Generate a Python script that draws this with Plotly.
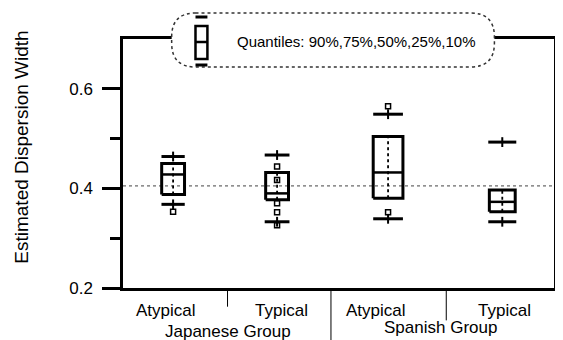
import plotly.graph_objects as go

# ---- data ----
categories = ["Atypical", "Typical", "Atypical", "Typical"]
groups = ["Japanese Group", "Spanish Group"]
p90 = [0.464, 0.467, 0.549, 0.493]
q75 = [0.450, 0.432, 0.504, 0.397]
median = [0.428, 0.390, 0.432, 0.373]
q25 = [0.388, 0.377, 0.380, 0.353]
p10 = [0.368, 0.333, 0.339, 0.333]
extra_points = [
    [0.353],
    [0.444, 0.417, 0.370, 0.352, 0.326],
    [0.565, 0.352],
    [],
]
reference_level = 0.405
y_ticks = [0.2, 0.4, 0.6]
y_minor = [0.3, 0.5]

# layout positions (not data)
xpos = [0.465, 1.43, 2.46, 3.52]
half_w = [0.106, 0.106, 0.138, 0.12]
cap_w = [0.108, 0.115, 0.138, 0.13]
label_x = [0.40, 1.47, 2.35, 3.54]
group_x = [0.97, 2.95]
dividers = [(0.97, -0.075), (1.93, -0.21), (3.0, -0.13)]

FONT = "Liberation Sans, Arial, sans-serif"
fig = go.Figure()

# reference line
fig.add_trace(go.Scatter(x=[0, 4], y=[reference_level] * 2, mode="lines",
                         line=dict(color="#444", width=1, dash="dot"),
                         hoverinfo="skip", showlegend=False))

for i in range(4):
    c, hw, cw = xpos[i], half_w[i], cap_w[i]
    fig.add_trace(go.Scatter(
        x=[c - hw, c + hw, c + hw, c - hw, c - hw],
        y=[q25[i], q25[i], q75[i], q75[i], q25[i]],
        mode="lines", line=dict(color="black", width=3),
        showlegend=False, hoverinfo="skip"))
    fig.add_trace(go.Scatter(x=[c - hw, c + hw], y=[median[i]] * 2, mode="lines",
                             line=dict(color="black", width=2.5),
                             showlegend=False, hoverinfo="skip"))
    fig.add_trace(go.Scatter(x=[c, c], y=[q25[i], q75[i]], mode="lines",
                             line=dict(color="black", width=1.8, dash="dot"),
                             showlegend=False, hoverinfo="skip"))
    for v in (p90[i], p10[i]):
        fig.add_trace(go.Scatter(x=[c - cw, c + cw], y=[v, v], mode="lines",
                                 line=dict(color="black", width=3),
                                 showlegend=False, hoverinfo="skip"))
    fig.add_trace(go.Scatter(x=[c, c], y=[p90[i], p10[i]], mode="markers",
                             marker=dict(symbol="line-ns", size=7,
                                         line=dict(color="black", width=2)),
                             showlegend=False, hoverinfo="skip"))
    if extra_points[i]:
        fig.add_trace(go.Scatter(x=[c] * len(extra_points[i]), y=extra_points[i],
                                 mode="markers",
                                 marker=dict(symbol="square-open", size=5,
                                             color="black", line=dict(width=1.5)),
                                 showlegend=False, hoverinfo="skip"))

shapes = []
for x, yb in dividers:
    shapes.append(dict(type="line", xref="x", yref="paper", x0=x, x1=x,
                       y0=-0.008, y1=yb, line=dict(color="black", width=1)))

# page pixel -> paper coords (plot area 123..557 x 39..288)
def px(xp):
    return (xp - 123) / 434
def py(yp):
    return (288 - yp) / 249

x0, x1, y0, y1 = px(172), px(497), py(67), py(13)
rx, ry = 24 / 434, 24 / 249
path = (f"M {x0+rx},{y1} L {x1-rx},{y1} Q {x1},{y1} {x1},{y1-ry} "
        f"L {x1},{y0+ry} Q {x1},{y0} {x1-rx},{y0} L {x0+rx},{y0} "
        f"Q {x0},{y0} {x0},{y0+ry} L {x0},{y1-ry} Q {x0},{y1} {x0+rx},{y1} Z")
shapes.append(dict(type="path", xref="paper", yref="paper", path=path,
                   fillcolor="white", line=dict(color="#333", width=1.5, dash="dot"),
                   layer="above"))
gx0, gx1 = px(196), px(208)
shapes += [
    dict(type="line", xref="paper", yref="paper", x0=gx0, x1=gx1, y0=py(17), y1=py(17),
         line=dict(color="black", width=3), layer="above"),
    dict(type="rect", xref="paper", yref="paper", x0=gx0, x1=gx1, y0=py(59), y1=py(26),
         line=dict(color="black", width=2.5), layer="above"),
    dict(type="line", xref="paper", yref="paper", x0=gx0, x1=gx1, y0=py(42), y1=py(42),
         line=dict(color="black", width=2.5), layer="above"),
    dict(type="line", xref="paper", yref="paper", x0=gx0, x1=gx1, y0=py(65), y1=py(65),
         line=dict(color="black", width=3), layer="above"),
]

annotations = [dict(text="Quantiles: 90%,75%,50%,25%,10%", xref="paper", yref="paper",
                    x=px(236), y=py(41), xanchor="left", yanchor="middle",
                    showarrow=False, font=dict(size=15, color="black", family=FONT))]
for lx, t in zip(label_x, categories):
    annotations.append(dict(text=t, xref="x", yref="paper", x=lx, y=py(310),
                            xanchor="center", yanchor="middle", showarrow=False,
                            font=dict(size=17, color="black", family=FONT)))
for gx, t, yy in zip(group_x, groups, [331, 327]):
    annotations.append(dict(text=t, xref="x", yref="paper", x=gx, y=py(yy),
                            xanchor="center", yanchor="middle", showarrow=False,
                            font=dict(size=17, color="black", family=FONT)))
annotations.append(dict(text="Estimated Dispersion Width", xref="paper", yref="paper",
                        x=px(20), y=py(147), textangle=-90, xanchor="center",
                        yanchor="middle", showarrow=False,
                        font=dict(size=19, color="black", family=FONT)))

# the page body has an 8px default margin, so the figure is offset by 8px
fig.update_layout(
    width=555, height=332, margin=dict(l=115, r=6, t=31, b=52),
    paper_bgcolor="white", plot_bgcolor="white",
    shapes=shapes, annotations=annotations, showlegend=False,
    xaxis=dict(range=[0, 4], showgrid=False, zeroline=False, showticklabels=False,
               ticks="", showline=True, linecolor="black", linewidth=2.5, mirror=True),
    yaxis=dict(range=[0.2, 0.7], tickvals=y_ticks, ticktext=[f"{v:.1f}" for v in y_ticks],
               ticks="outside", ticklen=18, tickwidth=2.5, tickcolor="black",
               showgrid=False, zeroline=False, showline=True, linecolor="black",
               linewidth=2.5, mirror=True, ticklabelstandoff=6,
               tickfont=dict(size=17, color="black", family=FONT),
               minor=dict(tickvals=y_minor, ticks="outside", ticklen=10, tickwidth=2.5,
                          tickcolor="black", showgrid=False)),
)

fig.write_html("out.html")
